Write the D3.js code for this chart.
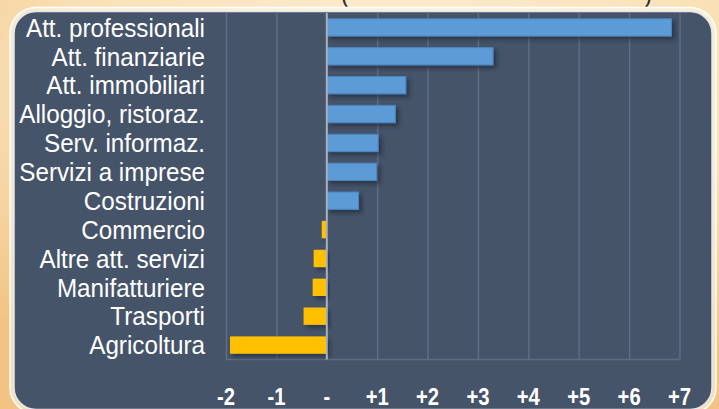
<!DOCTYPE html>
<html>
<head>
<meta charset="utf-8">
<script src="https://cdn.jsdelivr.net/npm/d3@7"></script>
<style>
    html, body { margin: 0; padding: 0; }
    body { width: 719px; height: 409px; overflow: hidden; }
    #chart { width: 719px; height: 409px; }
</style>
</head>
<body>
<div id="chart"></div>
<script>
const categories = [
    'Att. professionali', 'Att. finanziarie', 'Att. immobiliari', 'Alloggio, ristoraz.',
    'Serv. informaz.', 'Servizi a imprese', 'Costruzioni', 'Commercio',
    'Altre att. servizi', 'Manifatturiere', 'Trasporti', 'Agricoltura'
];
const values = [6.84, 3.30, 1.57, 1.36, 1.02, 0.99, 0.63, -0.10, -0.26, -0.28, -0.46, -1.92];
const tickValues = [-2, -1, 0, 1, 2, 3, 4, 5, 6, 7];
const tickLabels = ['-2', '-1', '-', '+1', '+2', '+3', '+4', '+5', '+6', '+7'];

class DivergingBarChart {
    constructor(containerId) {
        this.container = document.getElementById(containerId);
        this.width = 719;
        this.height = 409;
        this.plot = { left: 226, right: 679.5, top: 13, bottom: 359.5 };
        this.posColor = '#5b9bd5';
        this.negColor = '#ffc000';
        this.panelColor = '#46546a';
        this.render();
    }

    render() {
        const svg = d3.select(this.container)
            .append('svg')
            .attr('width', this.width)
            .attr('height', this.height);

        const defs = svg.append('defs');

        const bg = defs.append('radialGradient')
            .attr('id', 'bg')
            .attr('cx', '55%').attr('cy', '20%').attr('r', '80%');
        bg.append('stop').attr('offset', '0%').attr('stop-color', '#fcefd6');
        bg.append('stop').attr('offset', '60%').attr('stop-color', '#f9e0b6');
        bg.append('stop').attr('offset', '100%').attr('stop-color', '#f2c383');

        const shadow = defs.append('filter')
            .attr('id', 'shadow')
            .attr('x', '-10%').attr('y', '-30%')
            .attr('width', '130%').attr('height', '180%');
        shadow.append('feDropShadow')
            .attr('dx', 3).attr('dy', 3)
            .attr('stdDeviation', 2.2)
            .attr('flood-color', '#1c2433')
            .attr('flood-opacity', 0.65);

        svg.append('rect')
            .attr('width', this.width)
            .attr('height', this.height)
            .attr('fill', 'url(#bg)');

        // subtitle brackets, cut off by the top edge as in the source
        svg.append('text')
            .attr('x', 345).attr('y', 3)
            .attr('text-anchor', 'middle')
            .style('font', '24px "Liberation Sans", Arial, sans-serif')
            .attr('fill', '#2a2a2a')
            .text('(');
        svg.append('text')
            .attr('x', 648).attr('y', 3)
            .attr('text-anchor', 'middle')
            .style('font', '24px "Liberation Sans", Arial, sans-serif')
            .attr('fill', '#2a2a2a')
            .text(')');

        // panel
        svg.append('rect')
            .attr('x', 10).attr('y', 7.5)
            .attr('width', 706).attr('height', 406)
            .attr('rx', 26)
            .attr('fill', '#fff8ec')
            .attr('fill-opacity', 0.5)
            .attr('stroke', '#ffffff')
            .attr('stroke-width', 1.5);

        svg.append('rect')
            .attr('x', 14).attr('y', 11.5)
            .attr('width', 698).attr('height', 398)
            .attr('rx', 22)
            .attr('fill', this.panelColor)
            .attr('stroke', '#e4e8ee')
            .attr('stroke-width', 1.5);

        const x = d3.scaleLinear()
            .domain([-2, 7])
            .range([this.plot.left, this.plot.right]);

        const y = d3.scaleBand()
            .domain(categories)
            .range([this.plot.top, this.plot.bottom])
            .paddingInner(0.4)
            .paddingOuter(0.2);

        // grid lines
        svg.append('g')
            .attr('class', 'grid')
            .attr('transform', `translate(0,${this.plot.bottom})`)
            .call(d3.axisBottom(x)
                .tickValues(tickValues)
                .tickSize(-(this.plot.bottom - this.plot.top))
                .tickFormat('')
            )
            .call(g => g.select('.domain').remove())
            .call(g => g.selectAll('line')
                .attr('stroke', '#5f6d84')
                .attr('stroke-width', 1.5));

        svg.append('line')
            .attr('x1', this.plot.left).attr('x2', this.plot.right)
            .attr('y1', this.plot.bottom).attr('y2', this.plot.bottom)
            .attr('stroke', '#5f6d84')
            .attr('stroke-width', 1.5);

        // bars
        svg.append('g')
            .selectAll('rect')
            .data(values)
            .join('rect')
            .attr('x', d => x(Math.min(0, d)))
            .attr('y', (d, i) => y(categories[i]))
            .attr('width', d => Math.abs(x(d) - x(0)))
            .attr('height', y.bandwidth())
            .attr('fill', d => d >= 0 ? this.posColor : this.negColor)
            .attr('stroke', d => d >= 0 ? '#4a86c2' : 'none')
            .attr('stroke-width', 1)
            .attr('filter', 'url(#shadow)');

        // zero line
        svg.append('line')
            .attr('x1', x(0)).attr('x2', x(0))
            .attr('y1', this.plot.top).attr('y2', this.plot.bottom)
            .attr('stroke', '#a9b0bc')
            .attr('stroke-width', 2);

        // category labels (slightly condensed, like the source font)
        svg.append('g')
            .selectAll('text')
            .data(categories)
            .join('text')
            .attr('transform', d => `translate(205,${y(d) + y.bandwidth() / 2}) scale(0.95,1)`)
            .attr('dy', '0.36em')
            .attr('text-anchor', 'end')
            .attr('fill', '#ffffff')
            .style('font', '25.5px "Liberation Sans", Arial, sans-serif')
            .text(d => d);

        // x axis labels
        svg.append('g')
            .selectAll('text')
            .data(tickValues)
            .join('text')
            .attr('transform', d => `translate(${x(d)},405) scale(0.88,1)`)
            .attr('text-anchor', 'middle')
            .attr('fill', '#ffffff')
            .style('font', 'bold 23px "Liberation Sans", Arial, sans-serif')
            .text((d, i) => tickLabels[i]);
    }
}

new DivergingBarChart('chart');
</script>
</body>
</html>
